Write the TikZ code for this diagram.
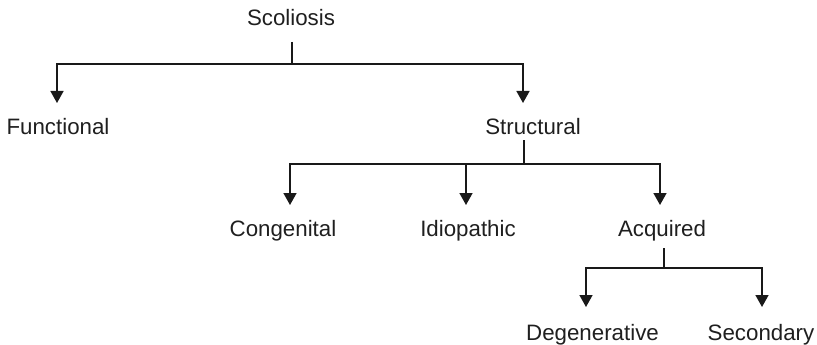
\documentclass[tikz,border=0pt]{standalone}
\usepackage{fontspec}
\setmainfont{Liberation Sans}
\usetikzlibrary{arrows.meta}
\begin{document}
\begin{tikzpicture}[x=1pt,y=-1pt,
  lbl/.style={anchor=base,inner sep=0pt,font=\fontsize{22.3}{26}\selectfont,text=black!88},
  conn/.style={line width=1.6pt,draw=black!90},
  arr/.style={conn,-{Triangle[width=13pt,length=12pt]}}]
\useasboundingbox (0,0) rectangle (817,345);
% labels
\node[lbl] (scol) at (291,26) {Scoliosis};
\node[lbl] (func) at (58,135) {Functional};
\node[lbl] (struct) at (533,134) {Structural};
\node[lbl] (cong) at (283,236.5) {Congenital};
\node[lbl] (idio) at (468,236.5) {Idiopathic};
\node[lbl] (acq) at (662,236.5) {Acquired};
\node[lbl] (deg) at (592.5,340) {Degenerative};
\node[lbl] (sec) at (761,340) {Secondary};
% junction coordinates
\coordinate (s0) at (292,42);
\coordinate (j0) at (292,64);
\coordinate (tf) at (57,103);
\coordinate (ts) at (523,103);
\coordinate (s1) at (524,140);
\coordinate (j1) at (524,164);
\coordinate (tc) at (290,205);
\coordinate (ti) at (466,205);
\coordinate (ta) at (660,205);
\coordinate (s2) at (664,248);
\coordinate (j2) at (664,268);
\coordinate (td) at (586,307);
\coordinate (tsec) at (762,307);
% connectors
\draw[conn] (s0) -- (j0);
\draw[arr] (j0) -| (tf);
\draw[arr] (j0) -| (ts);
\draw[conn] (s1) -- (j1);
\draw[arr] (j1) -| (tc);
\draw[arr] (j1) -| (ti);
\draw[arr] (j1) -| (ta);
\draw[conn] (s2) -- (j2);
\draw[arr] (j2) -| (td);
\draw[arr] (j2) -| (tsec);
\end{tikzpicture}
\end{document}
